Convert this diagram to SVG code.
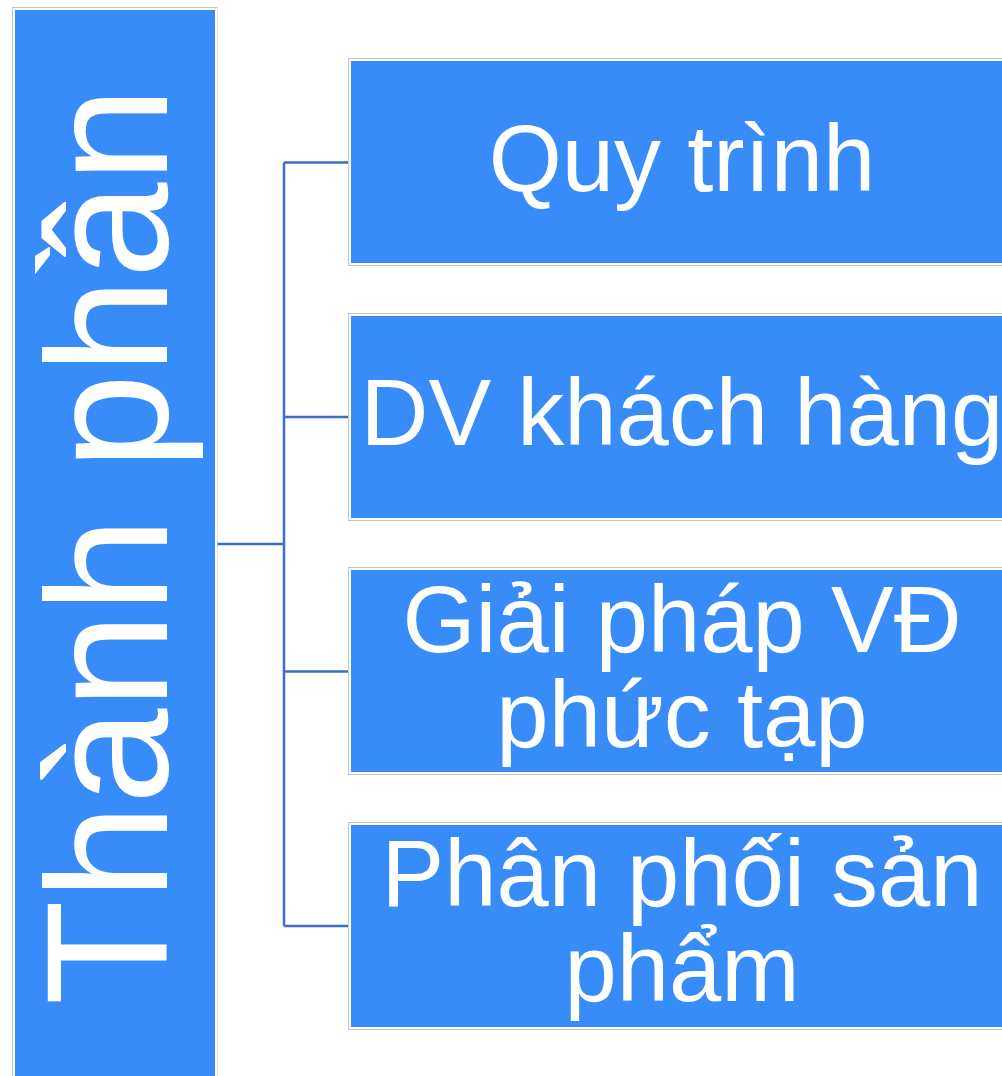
<svg xmlns="http://www.w3.org/2000/svg" width="1002" height="1076" viewBox="0 0 1002 1076">
<style>
.outer{fill:none;stroke:#c6c6c6;stroke-width:1}
.box{fill:#388cf8;stroke:#ffffff;stroke-width:2}
.lbl{font-family:"Liberation Sans",Arial,sans-serif;font-size:94px;fill:#ffffff;text-anchor:middle}
.main{font-family:"Liberation Sans",Arial,sans-serif;font-size:172px;fill:#ffffff;text-anchor:middle}
.conn{fill:none;stroke:#3b70c2;stroke-width:2.5}
</style>
<defs>
<clipPath id="leftclip"><rect x="14" y="9" width="202" height="1080"/></clipPath>
</defs>
<rect width="1002" height="1076" fill="#ffffff"/>
<g id="connectors">
<path class="conn" d="M217 544 H284 M284 162.5 V926 M284 162.5 H349 M284 417 H349 M284 671.5 H349 M284 926 H349"/>
</g>
<g id="node-main">
<rect class="outer" x="12.5" y="7.5" width="204.5" height="1090"/>
<rect class="box" x="14" y="9" width="202" height="1090"/>
<g clip-path="url(#leftclip)">
<text class="main" transform="translate(167,546) rotate(-90)">Thành phần</text>
</g>
</g>
<g id="node-1">
<rect class="outer" x="348.5" y="58.5" width="700" height="207"/>
<rect class="box" x="350" y="60" width="700" height="204"/>
<text class="lbl" x="682" y="191">Quy trình</text>
</g>
<g id="node-2">
<rect class="outer" x="348.5" y="313.5" width="700" height="207"/>
<rect class="box" x="350" y="315" width="700" height="204"/>
<text class="lbl" x="682" y="445">DV khách hàng</text>
</g>
<g id="node-3">
<rect class="outer" x="348.5" y="567.5" width="700" height="207"/>
<rect class="box" x="350" y="569" width="700" height="204"/>
<text class="lbl" x="682" y="652">Giải pháp VĐ</text>
<text class="lbl" x="682" y="747">phức tạp</text>
</g>
<g id="node-4">
<rect class="outer" x="348.5" y="822.5" width="700" height="207"/>
<rect class="box" x="350" y="824" width="700" height="204"/>
<text class="lbl" x="682" y="906">Phân phối sản</text>
<text class="lbl" x="682" y="1001">phẩm</text>
</g>
</svg>
